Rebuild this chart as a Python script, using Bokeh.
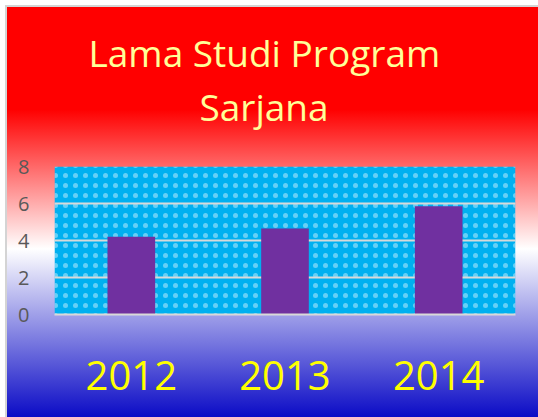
from bokeh.plotting import figure
from bokeh.models import ColumnDataSource, FactorRange, Range1d, Title, BoxAnnotation, FixedTicker
from bokeh.embed import file_html
from bokeh.resources import INLINE

# data
years = ["2012", "2013", "2014"]
values = [4.2, 4.65, 5.85]
y_ticks = [0, 2, 4, 6, 8]
title_lines = ["Lama Studi Program", "Sarjana"]

FONT = "Open Sans"

p = figure(
    width=538, height=417,
    x_range=FactorRange(*years, range_padding=0),
    y_range=Range1d(0, 8),
    output_backend="svg", toolbar_location=None,
    min_border_left=54, min_border_right=23, min_border_top=166, min_border_bottom=103,
)
p.title.visible = False

# transparent canvas, gradient background from CSS
p.background_fill_alpha = 0
p.border_fill_alpha = 0
p.outline_line_color = None
p.styles = {
    "background": (
        "linear-gradient(to bottom, #FF0000 0%, #FF0000 25%, #FFFFFF 59%, #0B0BC6 100%) "
        "7px 7px / calc(100% - 7px) calc(100% - 7px) no-repeat, "
        "linear-gradient(#D4D4D4, #D4D4D4) 5px 5px / calc(100% - 5px) calc(100% - 5px) no-repeat, "
        "#FFFFFF"
    ),
}

# plot-area pattern fill
area = BoxAnnotation(fill_color="#00B0F0", fill_alpha=1, line_color=None,
                     hatch_pattern="dot", hatch_color="white", hatch_alpha=0.4,
                     hatch_scale=10, hatch_weight=1, level="image")
p.add_layout(area)

src = ColumnDataSource(dict(year=years, value=values))
p.vbar(x="year", top="value", width=0.31, source=src, fill_color="#7030A0", line_color=None)

# grid
p.xgrid.visible = False
p.ygrid.ticker = FixedTicker(ticks=y_ticks)
p.ygrid.grid_line_color = "#D9D9D9"
p.ygrid.grid_line_width = 2
p.ygrid.level = "underlay"

# y axis
p.yaxis.ticker = FixedTicker(ticks=y_ticks)
p.yaxis.axis_line_color = None
p.yaxis.major_tick_line_color = None
p.yaxis.minor_tick_line_color = None
p.yaxis.major_label_standoff = 19
p.yaxis.major_label_text_font = FONT
p.yaxis.major_label_text_font_size = "20px"
p.yaxis.major_label_text_color = "#595959"

# x axis
p.xaxis.axis_line_color = "#D9D9D9"
p.xaxis.axis_line_width = 2
p.xaxis.major_tick_line_color = None
p.xaxis.minor_tick_line_color = None
p.xaxis.major_label_standoff = 40
p.xaxis.major_label_text_font = FONT
p.xaxis.major_label_text_font_size = "40px"
p.xaxis.major_label_text_color = "#FFFF00"

# titles (inner first)
t2 = Title(text=title_lines[1], align="left", offset=145, standoff=70,
           text_font=FONT, text_font_size="37px", text_font_style="normal", text_color="#FFFF99")
t1 = Title(text=title_lines[0], align="left", offset=34, standoff=-68,
           text_font=FONT, text_font_size="37px", text_font_style="normal", text_color="#FFFF99")
p.add_layout(t2, "above")
p.add_layout(t1, "above")

open("out.html", "w").write(file_html(p, INLINE))
